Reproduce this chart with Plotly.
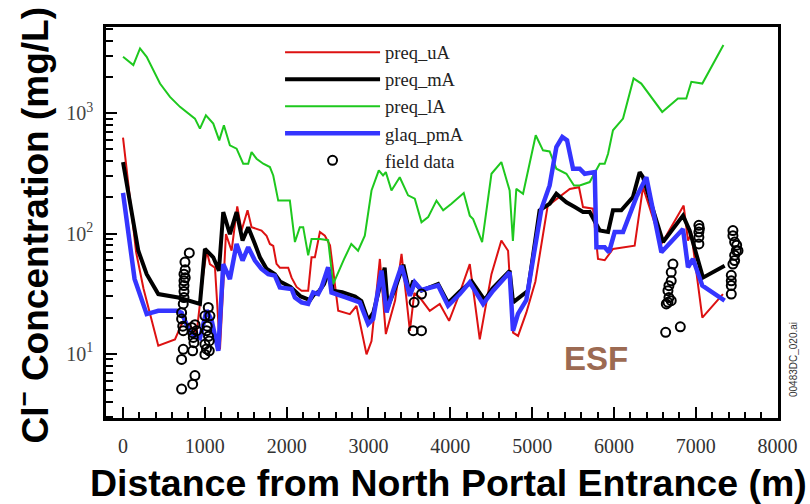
import plotly.graph_objects as go
import numpy as np

# ---------------- data ----------------
uA_x = [0, 80, 160, 250, 330, 431, 635, 716, 760, 900, 981, 1022, 1062, 1124, 1185, 1258, 1327, 1396, 1449,
        1522, 1571, 1693, 1754, 1795, 1836, 1876, 1917, 2019, 2060, 2121, 2182, 2263, 2304, 2345, 2406, 2467,
        2530, 2630, 2772, 2853, 2976, 3037, 3139, 3212, 3325, 3404, 3506, 3560, 3627, 3749, 3871, 3985, 4095,
        4238, 4360, 4503, 4624, 4706, 4767, 4828, 4929, 5040, 5190, 5337, 5460, 5573, 5622, 5744, 5805, 5887,
        5988, 6253, 6355, 6580, 6852, 6905, 6946, 7080, 7332]
uA_y = [627, 200, 70, 35, 22, 11.7, 13.2, 17.7, 18.8, 15, 46, 72, 55.8, 52, 10.9, 99, 72, 168, 106,
        156, 113, 106, 96, 82, 79, 56, 52, 52, 43, 36, 33.5, 33.5, 63.5, 63.5, 103, 96,
        80, 22.8, 21.4, 25, 9.9, 12.8, 61.5, 14.6, 27.7, 67.8, 15.5, 32, 29.4, 22.8, 26, 18.8, 29.4,
        55.8, 13.2, 46, 87.5, 72, 15, 14.1, 22, 40, 170, 201, 235, 243, 166, 161, 61.5, 60,
        74.5, 79.4, 243, 82, 171, 87.5, 100, 20, 31.4]

mA_x = [0, 85, 187, 289, 431, 675, 940, 1001, 1103, 1172, 1225, 1306, 1388, 1461, 1530, 1612, 1673, 1754,
        1856, 1919, 2046, 2172, 2286, 2331, 2394, 2457, 2520, 2565, 2679, 2837, 2913, 2996, 3059, 3198,
        3236, 3325, 3426, 3502, 3546, 3648, 3749, 3851, 3973, 4116, 4262, 4420, 4515, 4725, 4767, 4848,
        4949, 5091, 5214, 5296, 5419, 5521, 5622, 5704, 5826, 5928, 5988, 6090, 6232, 6314, 6355, 6600,
        6844, 6925, 7088, 7353]
mA_y = [393, 177, 72, 46, 31.4, 29.4, 26, 74.5, 63.5, 49, 151, 99, 151, 87.5, 113, 82, 63.5, 51,
        46, 40, 36, 30, 28, 31, 33, 38, 50, 33.5, 32.5, 30, 27.5, 19, 22, 52,
        24.5, 35, 55, 32, 40.5, 33.5, 35.7, 38, 26.5, 33, 40, 28, 35, 49, 26.8, 29.4,
        33.5, 156, 177, 214, 182, 166, 151, 151, 106, 103, 156, 156, 201, 324, 294, 85,
        141, 106, 43, 54]

lA_x = [0, 126, 208, 289, 452, 574, 696, 798, 879, 940, 1013, 1103, 1176, 1233, 1306, 1388, 1469, 1530,
        1571, 1632, 1714, 1795, 1836, 1897, 2039, 2101, 2161, 2202, 2263, 2304, 2406, 2507, 2568, 2700,
        2790, 2873, 2955, 3037, 3126, 3178, 3212, 3281, 3382, 3484, 3566, 3648, 3729, 3831, 3913, 4014,
        4164, 4238, 4279, 4389, 4503, 4624, 4725, 4765, 4807, 4889, 5044, 5133, 5214, 5296, 5419, 5512,
        5582, 5704, 5765, 5826, 5887, 5928, 5988, 6111, 6240, 6334, 6590, 6782, 6884, 6946, 7080, 7338]
lA_y = [2944, 2512, 3459, 2944, 1766, 1368, 1130, 994, 903, 745, 962, 820, 595, 794, 541, 508, 381, 381,
        476, 419, 381, 357, 304, 188, 188, 85, 113, 113, 66, 90, 90, 88, 38, 61,
        82, 72, 96, 228, 335, 304, 324, 228, 294, 208, 195, 124, 137, 188, 156, 177,
        217, 141, 132, 85, 314, 393, 228, 87, 235, 214, 656, 492, 482, 346, 314, 251,
        251, 268, 324, 380, 380, 461, 722, 903, 1946, 1766, 1026, 1325, 1325, 1825, 1766, 3690]

pmA_x = [0, 126, 141, 289, 431, 655, 716, 820, 940, 1022, 1083, 1164, 1225, 1306, 1388, 1461, 1530, 1612,
         1693, 1775, 1856, 1917, 2060, 2101, 2182, 2263, 2324, 2385, 2426, 2507, 2548, 2731, 2894, 2996,
         3057, 3159, 3221, 3302, 3404, 3506, 3566, 3648, 3749, 3851, 3973, 4116, 4238, 4401, 4523, 4725,
         4766, 4827, 4929, 5113, 5214, 5296, 5369, 5427, 5500, 5582, 5643, 5765, 5786, 5887, 5940, 6009,
         6111, 6274, 6396, 6580, 6844, 6905, 6966, 7080, 7353]
pmA_y = [218, 46, 42, 21.4, 22.8, 22.8, 22, 15, 13.5, 23, 19, 10.6, 55.8, 41.9, 82, 59.6, 77, 59.6,
         50.8, 46, 44.7, 35.7, 34.6, 29.4, 26.8, 26, 32.4, 31.4, 35.7, 52.4, 32.4, 29.4, 26.8, 17.7,
         19.5, 49.2, 22.1, 33.5, 54, 30.4, 39.3, 34, 35.7, 37, 25.1, 31.4, 39.3, 26, 33.5, 47.6,
         15.5, 21.5, 28, 160, 251, 524, 635, 595, 346, 346, 314, 324, 77, 77, 70, 103,
         103, 201, 294, 70, 109, 52.4, 61.5, 36.9, 27.7]

field_x = [810, 757, 745, 745, 745, 745, 745, 736, 716, 716, 730, 736, 839, 851, 859, 900, 867, 880,
           736, 716, 851, 879, 851, 716, 760, 760,
           1001, 1022, 1054, 1001, 1001, 1054, 1042, 1062, 1030, 1045, 1020,
           3558, 3648, 3546, 3648,
           6721, 6700, 6700, 6672, 6660, 6672, 6660, 6700, 6640, 6632, 6811,
           7038, 7038, 7038, 7038, 7045,
           7454, 7454, 7475, 7495, 7475, 7454, 7434, 7434, 7434, 7516, 7475, 7500, 7434]
field_y = [69, 58, 46, 40.5, 37, 33, 29.4, 26, 22, 19.5, 17, 15.6, 16.6, 15, 13.7, 15.6, 12.4, 17.5,
           10.9, 9, 10.6, 6.6, 5.6, 5.1, 50, 43,
           20.7, 15.6, 12.8, 12, 9.9, 10.6, 24.3, 20.7, 17, 14, 11,
           26.8, 31.4, 15.6, 15.6,
           55.8, 47.6, 40.5, 36.9, 33.5, 29.4, 26.8, 27.7, 26, 15.1, 16.8,
           117, 103, 93, 82, 110,
           106, 96, 85, 72, 59.6, 55.8, 40.5, 37, 31.4, 72, 66, 80, 45]

x_ticks = [0, 1000, 2000, 3000, 4000, 5000, 6000, 7000, 8000]
y_ticks = [10, 100, 1000]
y_ticktext = ["10<sup>1</sup>", "10<sup>2</sup>", "10<sup>3</sup>"]

# ---------------- figure ----------------
fig = go.Figure()
fig.add_trace(go.Scatter(x=uA_x, y=uA_y, mode="lines", name="preq_uA",
                         line=dict(color="#dd1111", width=2)))
fig.add_trace(go.Scatter(x=mA_x, y=mA_y, mode="lines", name="preq_mA",
                         line=dict(color="#000000", width=4)))
fig.add_trace(go.Scatter(x=lA_x, y=lA_y, mode="lines", name="preq_lA",
                         line=dict(color="#1ec81e", width=2)))
fig.add_trace(go.Scatter(x=pmA_x, y=pmA_y, mode="lines", name="glaq_pmA",
                         line=dict(color="#3535ff", width=4.5)))
fig.add_trace(go.Scatter(x=field_x, y=field_y, mode="markers", name="field data",
                         marker=dict(symbol="circle-open", size=9, color="#000000",
                                     line=dict(width=2, color="#000000"))))

minor_y = [m * 10 ** d for d in range(0, 4) for m in range(2, 10)]
minor_x = [v for v in range(-200, 8001, 200) if v % 1000 != 0]

fig.update_xaxes(range=[-208, 8005], showline=True, linewidth=2.5, linecolor="black", mirror=True,
                 ticks="inside", ticklen=11, tickwidth=2, tickcolor="black",
                 tickvals=x_ticks, showgrid=False, zeroline=False, ticklabelstandoff=8,
                 tickfont=dict(family="Liberation Serif", size=20, color="#333333"),
                 minor=dict(tickvals=minor_x, ticks="inside", ticklen=6, tickwidth=2, tickcolor="black",
                            showgrid=False))
fig.update_yaxes(type="log", range=[0.467, 3.717], showline=True, linewidth=2.5, linecolor="black",
                 mirror=True, ticks="inside", ticklen=11, tickwidth=2, tickcolor="black",
                 tickvals=y_ticks, ticktext=y_ticktext, showgrid=False, zeroline=False,
                 ticklabelstandoff=6,
                 tickfont=dict(family="Liberation Serif", size=20, color="#444444"),
                 minor=dict(tickvals=minor_y, ticks="inside", ticklen=7, tickwidth=2, tickcolor="black",
                            showgrid=False))

fig.update_layout(
    width=810, height=504,
    margin=dict(l=106, r=32, t=27, b=86),
    paper_bgcolor="white", plot_bgcolor="white",
    showlegend=True,
    legend=dict(x=0.259, y=0.983, xanchor="left", yanchor="top", bgcolor="rgba(0,0,0,0)",
                borderwidth=0, itemwidth=95, tracegroupgap=0,
                font=dict(family="Liberation Serif", size=18.5, color="#222222")),
    annotations=[
        dict(text="<b>Cl<sup>−</sup> Concentration (mg/L)</b>", xref="paper", yref="paper", x=0, y=0.5,
             xshift=-73, yshift=-3, textangle=-90, showarrow=False, xanchor="center", yanchor="middle",
             font=dict(family="Liberation Sans", size=37, color="black")),
        dict(text="<b>Distance from North Portal Entrance (m)</b>", xref="paper", yref="paper",
             x=0.5, y=0, xshift=6, yshift=-65, showarrow=False, xanchor="center", yanchor="middle",
             font=dict(family="Liberation Sans", size=37.5, color="black")),
        dict(text="<b>ESF</b>", xref="paper", yref="paper", x=(596 - 106) / 672, y=(418 - 358) / 391,
             showarrow=False, xanchor="center", yanchor="middle",
             font=dict(family="Liberation Sans", size=33, color="#9c6a52")),
        dict(text="00483DC_020.ai", xref="paper", yref="paper", x=1, y=(418 - 360) / 391,
             xshift=15, textangle=-90, showarrow=False, xanchor="center", yanchor="middle",
             font=dict(family="Liberation Sans", size=10, color="#333333")),
    ],
)

fig.write_html("out.html")
